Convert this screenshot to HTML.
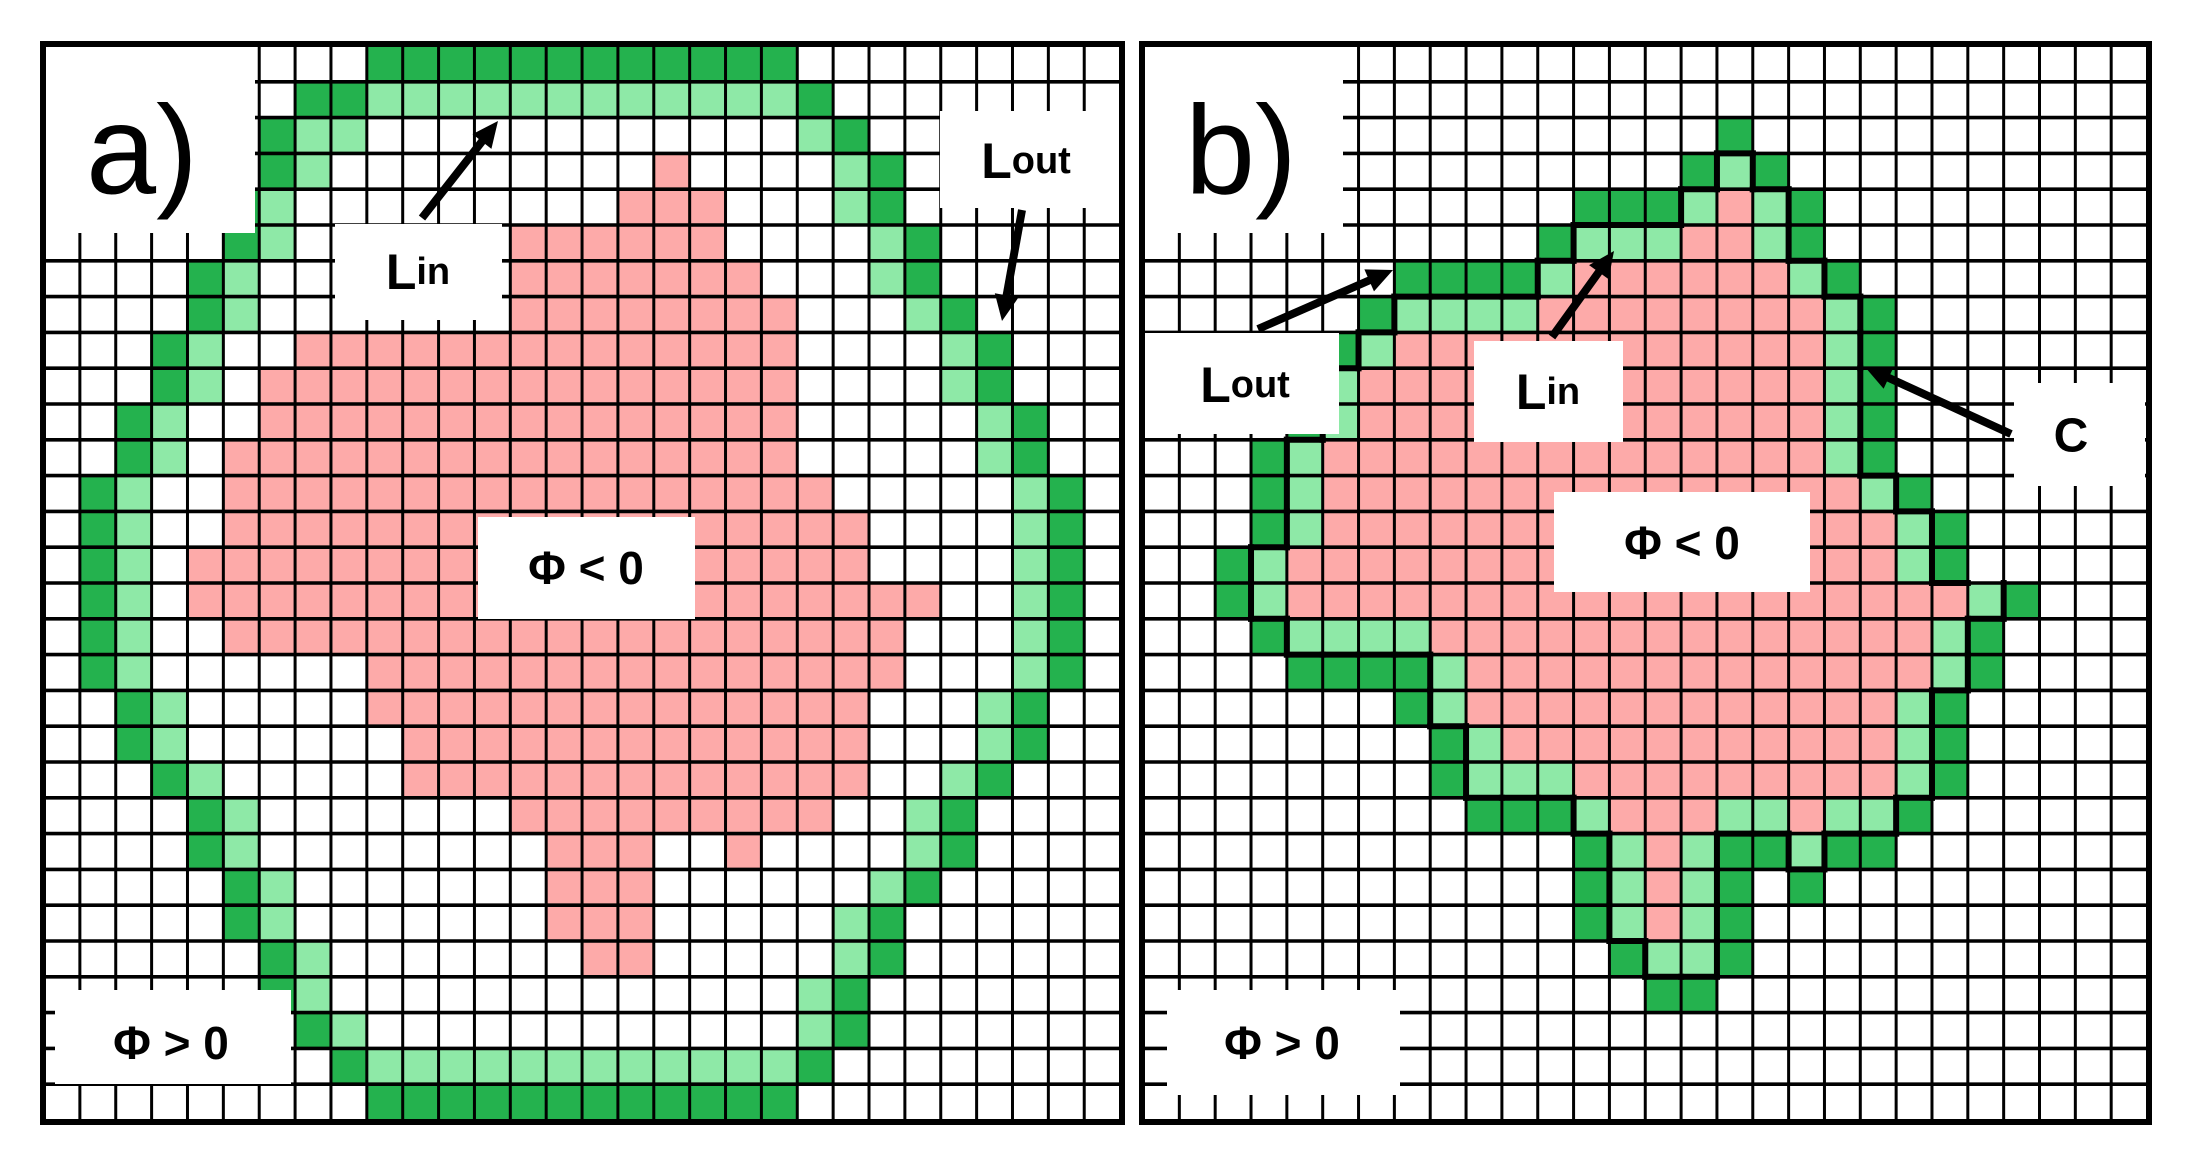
<!DOCTYPE html>
<html><head><meta charset="utf-8"><style>
html,body{margin:0;padding:0;background:#fff;}
svg{display:block;}
text{font-family:"Liberation Sans",Arial,sans-serif;fill:#000;}
</style></head><body>
<svg id="s" width="2188" height="1165" viewBox="0 0 2188 1165" xmlns="http://www.w3.org/2000/svg">
<rect width="2188" height="1165" fill="#fff"/>
<g id="cells"></g>
<g id="grid"></g>
<g id="contour"></g>
<g id="boxes" fill="#fff">
<rect x="44" y="46" width="211" height="187"/>
<rect x="335" y="224" width="167" height="96"/>
<rect x="940" y="111" width="180" height="97"/>
<rect x="478" y="517" width="217" height="102"/>
<rect x="55" y="990" width="236" height="94"/>
<rect x="1143" y="46" width="200" height="187"/>
<rect x="1143" y="333" width="196" height="101"/>
<rect x="1474" y="341" width="149" height="101"/>
<rect x="2014" y="383" width="131" height="103"/>
<rect x="1554" y="492" width="256" height="100"/>
<rect x="1167" y="990" width="233" height="105"/>
</g>
<g id="arrows"></g>
<g id="border" fill="none" stroke="#000" stroke-width="6">
<rect x="43" y="44" width="1079" height="1078"/>
<rect x="1142" y="44" width="1007" height="1078"/>
</g>
<g text-anchor="middle" dominant-baseline="central">
<text x="142" y="150" font-size="126">a)</text>
<text x="1241" y="150" font-size="126">b)</text>
<text x="418" y="272" font-weight="bold"><tspan font-size="50">L</tspan><tspan font-size="38">in</tspan></text>
<text x="1026" y="161" font-weight="bold"><tspan font-size="50">L</tspan><tspan font-size="38">out</tspan></text>
<text x="1245" y="385" font-weight="bold"><tspan font-size="50">L</tspan><tspan font-size="38">out</tspan></text>
<text x="1548" y="392" font-weight="bold"><tspan font-size="50">L</tspan><tspan font-size="38">in</tspan></text>
<text x="2071" y="436" font-size="48" font-weight="bold">C</text>
<text x="586" y="568" font-size="46" font-weight="bold">Φ &lt; 0</text>
<text x="1682" y="543" font-size="46" font-weight="bold">Φ &lt; 0</text>
<text x="171" y="1043" font-size="46" font-weight="bold">Φ &gt; 0</text>
<text x="1282" y="1043" font-size="46" font-weight="bold">Φ &gt; 0</text>
</g>
</svg>
<script>
(function(){
var NS="http://www.w3.org/2000/svg";
function el(p,t,a){var e=document.createElementNS(NS,t);for(var k in a)e.setAttribute(k,a[k]);p.appendChild(e);return e;}
var cells=document.getElementById("cells"),grid=document.getElementById("grid"),cont=document.getElementById("contour"),arr=document.getElementById("arrows");
var COL={D:"#24b24e",L:"#8ee9a7",P:"#fdaaa9"};
function build(spec,nc){var m=[];for(var r=0;r<30;r++){var row=[];for(var c=0;c<nc;c++)row.push(".");m.push(row);}
 spec.forEach(function(s){var r=s[0];for(var i=1;i<s.length;i++){var t=s[i];var ch=t[0];var rng=t.slice(1).split("-");var a=+rng[0],b=rng.length>1?+rng[1]:a;for(var c=a;c<=b;c++)m[r][c]=ch;}});return m;}
var A=build([
[0,"D9-20"],[1,"D7-8","L9-20","D21"],[2,"D6","L7-8","L21","D22"],[3,"D6","L7","P17","L22","D23"],
[4,"D5","L6","P16-18","L22","D23"],[5,"D5","L6","P13-18","L23","D24"],[6,"D4","L5","P13-19","L23","D24"],
[7,"D4","L5","P13-20","L24","D25"],[8,"D3","L4","P7-20","L25","D26"],[9,"D3","L4","P6-20","L25","D26"],
[10,"D2","L3","P6-20","L26","D27"],[11,"D2","L3","P5-20","L26","D27"],[12,"D1","L2","P5-21","L27","D28"],
[13,"D1","L2","P5-22","L27","D28"],[14,"D1","L2","P4-22","L27","D28"],[15,"D1","L2","P4-24","L27","D28"],
[16,"D1","L2","P5-23","L27","D28"],[17,"D1","L2","P9-23","L27","D28"],[18,"D2","L3","P9-22","L26","D27"],
[19,"D2","L3","P10-22","L26","D27"],[20,"D3","L4","P10-22","L25","D26"],[21,"D4","L5","P13-21","L24","D25"],
[22,"D4","L5","P14-16","P19","L24","D25"],[23,"D5","L6","P14-16","L23","D24"],[24,"D5","L6","P14-16","L22","D23"],
[25,"D6","L7","P15-16","L22","D23"],[26,"D6","L7","L21","D22"],[27,"D7","L8","L21","D22"],[28,"D8","L9-20","D21"],[29,"D9-20"]],30);
var B=build([
[2,"D16"],[3,"D15","L16","D17"],[4,"D12-14","L15","P16","L17","D18"],[5,"D11","L12-14","P15-16","L17","D18"],
[6,"D7-10","L11","P12-17","L18","D19"],[7,"D6","L7-10","P11-18","L19","D20"],[8,"D5","L6","P7-18","L19","D20"],
[9,"D4","L5","P6-18","L19","D20"],[10,"D4","L5","P6-18","L19","D20"],[11,"D3","L4","P5-18","L19","D20"],
[12,"D3","L4","P5-19","L20","D21"],[13,"D3","L4","P5-20","L21","D22"],[14,"D2","L3","P4-20","L21","D22"],
[15,"D2","L3","P4-22","L23","D24"],[16,"D3","L4-7","P8-21","L22","D23"],[17,"D4-7","L8","P9-21","L22","D23"],
[18,"D7","L8","P9-20","L21","D22"],[19,"D8","L9","P10-20","L21","D22"],[20,"D8","L9-11","P12-20","L21","D22"],
[21,"D9-11","L12","P13-15","L16-17","P18","L19-20","D21"],[22,"D12","L13","P14","L15","D16-17","L18","D19-20"],
[23,"D12","L13","P14","L15","D16","D18"],[24,"D12","L13","P14","L15","D16"],[25,"D13","L14-15","D16"],[26,"D14-15"]],28);
function panel(m,nc,x0,y0,sx,sy,contour){
 for(var r=0;r<30;r++)for(var c=0;c<nc;c++){var v=m[r][c];if(v!==".")el(cells,"rect",{x:x0+c*sx,y:y0+r*sy,width:sx+0.5,height:sy+0.5,fill:COL[v]});}
 for(var c=1;c<nc;c++){var x=x0+c*sx;el(grid,"line",{x1:x,y1:y0,x2:x,y2:y0+30*sy,stroke:"#000","stroke-width":3});}
 for(var r=1;r<30;r++){var y=y0+r*sy;el(grid,"line",{x1:x0,y1:y,x2:x0+nc*sx,y2:y,stroke:"#000","stroke-width":3.6});}
 if(contour){
  function isIn(r,c){if(r<0||r>=30||c<0||c>=nc)return false;var v=m[r][c];return v==="L"||v==="P";}
  for(var r=0;r<30;r++)for(var c=0;c<nc;c++){if(m[r][c]!=="D")continue;
   var X=x0+c*sx,Y=y0+r*sy,o={stroke:"#000","stroke-width":6,"stroke-linecap":"square"};
   if(isIn(r-1,c))el(cont,"line",Object.assign({x1:X,y1:Y,x2:X+sx,y2:Y},o));
   if(isIn(r+1,c))el(cont,"line",Object.assign({x1:X,y1:Y+sy,x2:X+sx,y2:Y+sy},o));
   if(isIn(r,c-1))el(cont,"line",Object.assign({x1:X,y1:Y,x2:X,y2:Y+sy},o));
   if(isIn(r,c+1))el(cont,"line",Object.assign({x1:X+sx,y1:Y,x2:X+sx,y2:Y+sy},o));
  }}
}
panel(A,30,44,46,35.87,35.8,false);
panel(B,28,1143.5,46,35.84,35.8,true);
function arrow(x1,y1,x2,y2){var dx=x2-x1,dy=y2-y1,L=Math.sqrt(dx*dx+dy*dy),ux=dx/L,uy=dy/L,h=26,w=12;
 var bx=x2-ux*h,by=y2-uy*h;
 el(arr,"line",{x1:x1,y1:y1,x2:bx+ux*2,y2:by+uy*2,stroke:"#000","stroke-width":8});
 el(arr,"polygon",{points:x2+","+y2+" "+(bx-uy*w)+","+(by+ux*w)+" "+(bx+uy*w)+","+(by-ux*w),fill:"#000"});}
arrow(422,218,498,121);arrow(1022,210,1002,321);
arrow(1258,329,1393,270);arrow(1552,337,1614,251);arrow(2011,434,1865,367);
})();
</script>
</body></html>
